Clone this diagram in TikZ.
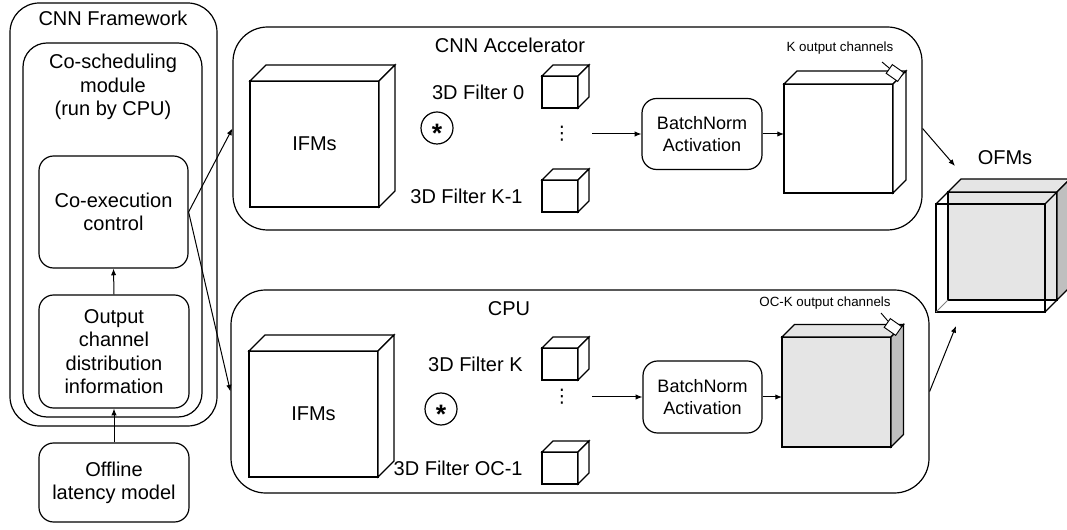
\documentclass[tikz,border=0pt]{standalone}
\usepackage{fontspec}
\setmainfont{Liberation Sans}
\newfontfamily\symfont{DejaVu Sans}
\usetikzlibrary{arrows.meta,positioning}

\tikzset{
  every node/.style={font=\fontsize{15pt}{17.5pt}\selectfont},
  rbox/.style={draw, rounded corners=11pt, align=center, line width=0.9pt},
  face/.style={draw, outer sep=0pt, line width=0.9pt, fill=white},
  arr/.style={-{Latex[length=5pt,width=4pt]}, line width=0.75pt},
  small/.style={font=\fontsize{10pt}{12pt}\selectfont},
  marker/.style={draw, fill=white, rotate=-35, minimum width=10.5pt, minimum height=8pt, inner sep=0pt, line width=0.7pt},
  dots/.style={font=\symfont\fontsize{14pt}{14pt}\selectfont},
}

\newcommand{\cubesides}[4]{%
  \filldraw[fill=#3, line width=0.9pt] (#1.north west) -- ++(#2,-#2) -- ([shift={(#2,-#2)}]#1.north east) -- (#1.north east) -- cycle;
  \filldraw[fill=#4, line width=0.9pt] (#1.north east) -- ++(#2,-#2) -- ([shift={(#2,-#2)}]#1.south east) -- (#1.south east) -- cycle;}
\newcommand{\convsign}{{\fontsize{20pt}{20pt}\selectfont\bfseries\raisebox{-11pt}[0pt][0pt]{*}}}

\begin{document}
\begin{tikzpicture}[x=0.75pt,y=-0.75pt]
\useasboundingbox (0,0) rectangle (1067,530);

\node[rbox, rounded corners=22pt, minimum width=155.25pt, minimum height=317.25pt] (fw) at (113.5,214.5) {};
\node (fwtitle) at (113,18) {CNN Framework};
\node[rbox, rounded corners=18pt, minimum width=134.25pt, minimum height=280.5pt] (cosch) at (112.5,230) {};
\node[align=center] (coschtitle) at (113,87) {Co-scheduling\\module\\(run by CPU)};
\node[rbox, minimum width=111.75pt, minimum height=84pt] (coexec) at (113.5,212) {Co-execution\\control};
\node[rbox, minimum width=112.5pt, minimum height=84.75pt] (outinfo) at (114,351.5) {Output\\channel\\distribution\\information};
\node[rbox, minimum width=112.5pt, minimum height=59.25pt] (offline) at (114,482.5) {Offline\\latency model};
\draw[arr] (outinfo.north) -- (coexec.south);
\draw[arr] (offline.north) -- (outinfo.south);

\node[rbox, rounded corners=26pt, minimum width=516.75pt, minimum height=152.25pt] (accel) at (577.5,128.5) {};
\node (acceltitle) at (510,45) {CNN Accelerator};
\node[face, minimum width=96.75pt, minimum height=94.5pt] (ifmA) at (314.5,144) {IFMs};
\cubesides{ifmA}{16}{white}{white}
\node[draw, circle, minimum size=24pt, inner sep=0pt, line width=0.9pt] (convA) at (437,128) {\convsign};
\node[face, minimum width=27pt, minimum height=24pt] (fA0) at (560,92) {};
\cubesides{fA0}{11}{white}{white}
\node[left=9.75pt of fA0] (lblA0) {3D Filter 0};
\node[face, minimum width=27pt, minimum height=24pt] (fA1) at (560,196) {};
\cubesides{fA1}{11}{white}{white}
\node[left=11pt of fA1] (lblA1) {3D Filter K-1};
\node[dots] (dotsA) at (562,134) {⋮};
\node[rbox, minimum width=90pt, minimum height=53.25pt, font=\fontsize{13.5pt}{16pt}\selectfont] (bnA) at (702,134) {BatchNorm\\Activation};
\draw[arr] ([xshift=12pt]dotsA.east) -- (bnA.west);
\node[face, minimum width=81.75pt, minimum height=81.75pt] (outA) at (838.5,138.5) {};
\cubesides{outA}{13}{white}{white}
\draw[arr] (bnA.east) -- (bnA.east -| outA.west);
\node[marker] (mkA) at (895,73) {};
\node[small] (chA) at (840,48) {K output channels};
\coordinate (tipA) at (882,62);
\draw[line width=0.7pt] (tipA) -- (mkA);

\node[rbox, rounded corners=26pt, minimum width=523.5pt, minimum height=152.25pt] (cpu) at (580,391.5) {};
\node (cputitle) at (509,309) {CPU};
\node[face, minimum width=96.75pt, minimum height=94.5pt] (ifmB) at (313.5,414) {IFMs};
\cubesides{ifmB}{16}{white}{white}
\node[draw, circle, minimum size=24pt, inner sep=0pt, line width=0.9pt] (convB) at (441,409) {\convsign};
\node[face, minimum width=27pt, minimum height=24pt] (fB0) at (560,364) {};
\cubesides{fB0}{11}{white}{white}
\node[left=11pt of fB0] (lblB0) {3D Filter K};
\node[face, minimum width=27pt, minimum height=24pt] (fB1) at (560,468) {};
\cubesides{fB1}{11}{white}{white}
\node[left=11pt of fB1] (lblB1) {3D Filter OC-1};
\node[dots] (dotsB) at (562,397) {⋮};
\node[rbox, minimum width=89.25pt, minimum height=54pt, font=\fontsize{13.5pt}{16pt}\selectfont] (bnB) at (702.5,397) {BatchNorm\\Activation};
\draw[arr] ([xshift=12pt]dotsB.east) -- (bnB.west);
\node[face, fill=gray!20, minimum width=81.75pt, minimum height=82.5pt] (outB) at (836.5,392) {};
\cubesides{outB}{12.5}{gray!20}{gray!50}
\draw[arr] (bnB.east) -- (bnB.east -| outB.west);
\node[marker] (mkB) at (893,327) {};
\node[small] (chB) at (825,303) {OC-K output channels};
\coordinate (tipB) at (881,313);
\draw[line width=0.7pt] (tipB) -- (mkB);

\draw[arr] (coexec.east) -- (accel.west);
\draw[arr] (coexec.east) -- (cpu.west);

\node (ofmtitle) at (1005,158) {OFMs};
\node[face, fill=gray!20, line width=1.3pt, minimum width=81.75pt, minimum height=81pt] (ofmback) at (1002.5,246) {};
\cubesides{ofmback}{13}{gray!20}{gray!50}
\node[draw, outer sep=0pt, line width=0.9pt, minimum width=81.75pt, minimum height=81pt] (ofmfront) at (990.5,258) {};
\draw[line width=0.9pt] (ofmfront.north west) -- (ofmback.north west);
\draw[line width=0.9pt] (ofmfront.north east) -- (ofmback.north east);
\draw[line width=0.9pt] (ofmfront.south east) -- (ofmback.south east);
\draw[gray, line width=0.6pt] (ofmfront.south west) -- (ofmback.south west);
\coordinate (ofmin1) at (955,166);
\coordinate (ofmin2) at (956,326);
\draw[arr] (accel.east) -- (ofmin1);
\draw[arr] (cpu.east) -- (ofmin2);
\end{tikzpicture}
\end{document}
